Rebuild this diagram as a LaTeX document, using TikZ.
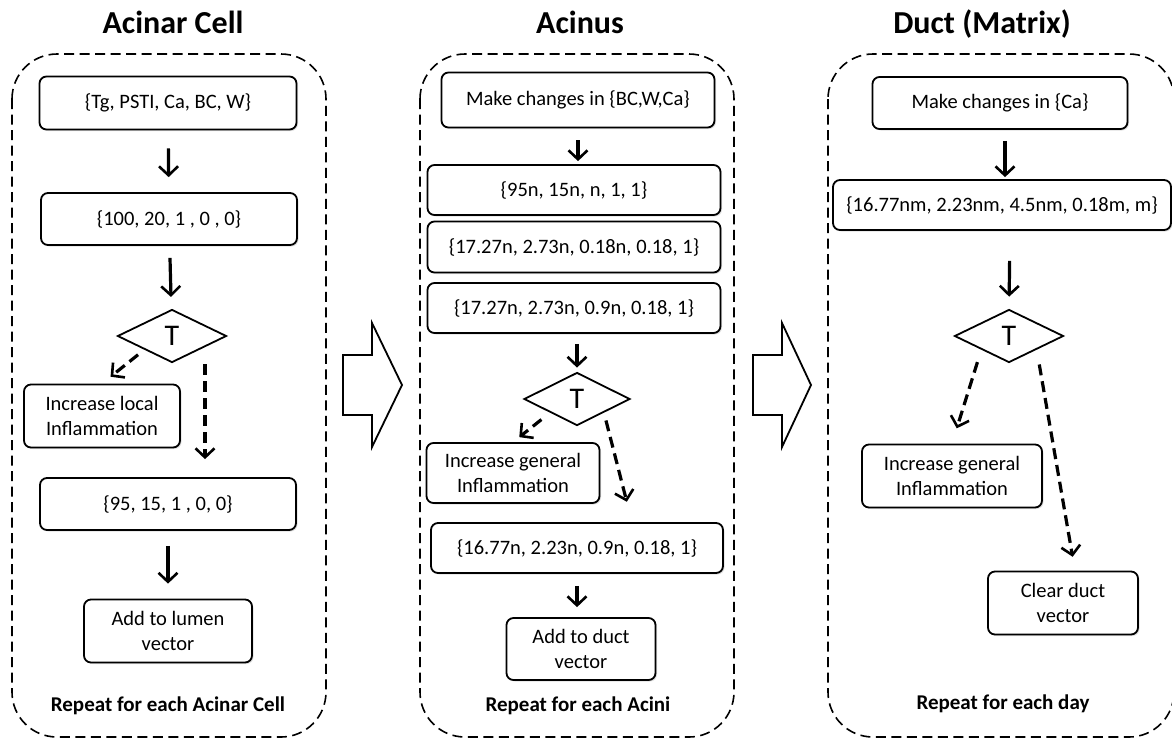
\documentclass[tikz,border=0pt]{standalone}
\usepackage{fontspec}
\setmainfont{Carlito}
\usetikzlibrary{shapes.geometric,arrows.meta,positioning,shadows}

\begin{document}
\begin{tikzpicture}[x=1pt,y=-1pt,
   box/.style={draw,rounded corners=7pt,line width=1.8pt,fill=white,align=center,
     inner sep=2pt,font=\fontsize{20.5}{24.5}\selectfont,
     drop shadow={shadow xshift=1.5pt,shadow yshift=-1.5pt,opacity=0.25}},
   test/.style={draw,diamond,line width=1.8pt,inner sep=0pt,fill=white,
     font=\fontsize{30}{32}\selectfont},
   title/.style={anchor=base,font=\fontsize{32}{36}\selectfont\bfseries},
   foot/.style={anchor=base,font=\fontsize{21}{24}\selectfont\bfseries},
   panel/.style={draw,dash pattern=on 10pt off 5.5pt,line width=1.6pt,rounded corners=45pt},
   flow/.style={-{Straight Barb[length=9pt,width=19pt,line width=2.6pt]},line width=3.2pt},
   maybe/.style={dash pattern=on 11pt off 6pt}]
   \useasboundingbox (0,0) rectangle (1172,740);

   % panels and titles
   \draw[panel] (12,54) rectangle (326,737);
   \draw[panel] (420,54) rectangle (734,737);
   \draw[panel] (828,54) rectangle (1174,737);
   \node[title] (t_A) at (173,33) {Acinar Cell};
   \node[title] (t_B) at (580,33) {Acinus};
   \node[title] (t_C) at (982,33) {Duct (Matrix)};
   \node[foot] (f_A) at (168,711) {Repeat for each Acinar Cell};
   \node[foot] (f_B) at (578,711) {Repeat for each Acini};
   \node[foot] (f_C) at (1003,709) {Repeat for each day};

   % big arrows between the panels
   \draw[line width=1.8pt] (343,355) -- (372,355) -- (372,323) -- (402,385)
        -- (372,447) -- (372,415) -- (343,415) -- cycle;
   \draw[line width=1.8pt] (753,355) -- (782,355) -- (782,323) -- (811,385)
        -- (782,447) -- (782,415) -- (753,415) -- cycle;

   % acinar cell
   \node[box,minimum width=257pt,minimum height=53pt] (A_0) at (168,103) {\{Tg, PSTI, Ca, BC, W\}};
   \node[box,minimum width=256pt,minimum height=52pt] (A_1) at (169,219) {\{100, 20, 1 , 0 , 0\}};
   \node[test,minimum width=109pt,minimum height=53pt] (A_T) at (172,336) {T};
   \node[box,minimum width=156pt,minimum height=63pt] (A_L) at (102,416) {Increase local\\Inflammation};
   \node[box,minimum width=256pt,minimum height=52pt] (A_2) at (168,504) {\{95, 15, 1 , 0, 0\}};
   \node[box,minimum width=168pt,minimum height=63pt] (A_3) at (168,631) {Add to lumen\\vector};

   % acinus
   \node[box,minimum width=273pt,minimum height=55pt] (B_0) at (578,100) {Make changes in \{BC,W,Ca\}};
   \node[box,minimum width=293pt,minimum height=50pt] (B_1) at (574,190) {\{95n, 15n, n, 1, 1\}};
   \node[box,minimum width=293pt,minimum height=51pt] (B_2) at (574,247) {\{17.27n, 2.73n, 0.18n, 0.18, 1\}};
   \node[box,minimum width=293pt,minimum height=50pt] (B_3) at (574,308) {\{17.27n, 2.73n, 0.9n, 0.18, 1\}};
   \node[test,minimum width=106pt,minimum height=53pt] (B_T) at (577,399) {T};
   \node[box,minimum width=173pt,minimum height=60pt] (B_L) at (513,473) {Increase general\\Inflammation};
   \node[box,minimum width=292pt,minimum height=50pt] (B_4) at (577,548) {\{16.77n, 2.23n, 0.9n, 0.18, 1\}};
   \node[box,minimum width=149pt,minimum height=62pt] (B_5) at (581,649) {Add to duct\\vector};

   % duct
   \node[box,minimum width=255pt,minimum height=52pt] (C_0) at (1000,103) {Make changes in \{Ca\}};
   \node[box,minimum width=338pt,minimum height=50pt] (C_1) at (1002,205) {\{16.77nm, 2.23nm, 4.5nm, 0.18m, m\}};
   \node[test,minimum width=109pt,minimum height=53pt] (C_T) at (1009,336) {T};
   \node[box,minimum width=180pt,minimum height=63pt] (C_L) at (952,476) {Increase general\\Inflammation};
   \node[box,minimum width=150pt,minimum height=63pt] (C_2) at (1063,603) {Clear duct\\vector};

   \path[flow]
    (A_0) edge[shorten <=18pt,shorten >=15pt] (A_1)
    (A_1) edge[shorten <=12pt,shorten >=12pt] (A_T)
    (A_T.south west) edge[maybe,shorten <=8pt,shorten >=11pt] (A_L.north)
    ([xshift=33pt]A_T.south) edge[maybe,shorten <=1pt,shorten >=18pt] ([xshift=37pt]A_2.north)
    (A_2) edge[shorten <=15pt,shorten >=15pt] (A_3)
    (B_0.south) edge[shorten <=12pt,shorten >=3pt] (B_0.south |- B_1.north)
    (B_3.south -| B_T) edge[shorten <=10pt,shorten >=4pt] (B_T.north)
    (B_T.south west) edge[maybe,shorten <=11pt,shorten >=8pt] (B_L.north)
    (B_T.south east) edge[maybe,shorten <=8pt,shorten >=21pt] ([xshift=55pt]B_4.north)
    (B_4.south) edge[shorten <=12pt,shorten >=10pt] (B_4.south |- B_5.north)
    ([xshift=5pt]C_0.south) edge[shorten <=11pt,shorten >=2pt] ([xshift=3pt]C_1.north)
    ([xshift=8pt]C_1.south) edge[shorten <=30pt,shorten >=12pt] (C_T.north)
    (C_T.south west) edge[maybe,shorten <=13pt,shorten >=16pt] (C_L.north)
    (C_T.south east) edge[maybe,shorten <=15pt,shorten >=14pt] ([xshift=12pt]C_2.north);
\end{tikzpicture}
\end{document}
